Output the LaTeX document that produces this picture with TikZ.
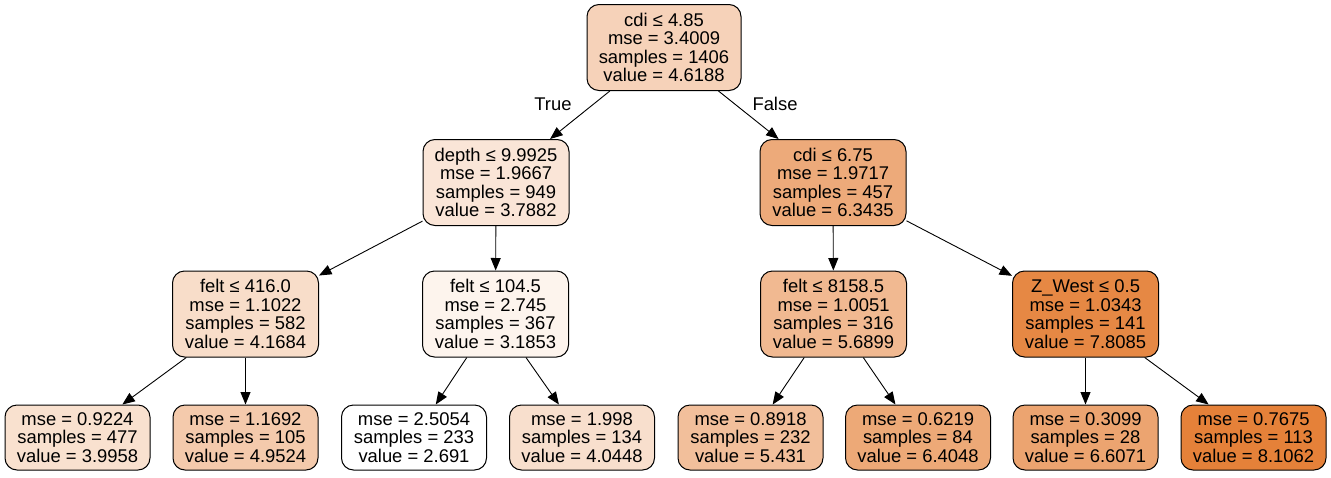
\documentclass[tikz,border=0pt]{standalone}
\usepackage{fontspec}
\setmainfont{Liberation Sans}
\usetikzlibrary{arrows.meta}
\definecolor{org}{HTML}{E58139}
\begin{document}
\begin{tikzpicture}[x=1pt,y=-1pt,
  tn/.style={draw=black, line width=1pt, rounded corners=12pt, align=center, inner sep=0pt, font=\fontsize{18.4}{18.5}\selectfont},
  split/.style={tn, minimum width=146pt, minimum height=86pt},
  leaf/.style={tn, minimum width=145pt, minimum height=65pt},
  edge/.style={-{Triangle[length=12.5pt,width=10pt]}, line width=0.9pt},
  lbl/.style={font=\fontsize{18.4}{18.4}\selectfont}]
\useasboundingbox (0,0) rectangle (1331,477);
\node[split, minimum width=154pt, fill=org!35.6!white] (n0) at (664,47.5) {cdi ≤ 4.85\\mse = 3.4009\\samples = 1406\\value = 4.6188};
\node[split, fill=org!20.3!white] (n1) at (496,182.5) {depth ≤ 9.9925\\mse = 1.9667\\samples = 949\\value = 3.7882};
\node[split, fill=org!67.4!white] (n2) at (833,182.5) {cdi ≤ 6.75\\mse = 1.9717\\samples = 457\\value = 6.3435};
\node[split, fill=org!27.3!white] (n3) at (245.5,314) {felt ≤ 416.0\\mse = 1.1022\\samples = 582\\value = 4.1684};
\node[split, fill=org!9.1!white] (n4) at (495.5,314) {felt ≤ 104.5\\mse = 2.745\\samples = 367\\value = 3.1853};
\node[split, fill=org!55.4!white] (n5) at (833.5,314) {felt ≤ 8158.5\\mse = 1.0051\\samples = 316\\value = 5.6899};
\node[split, fill=org!94.5!white] (n6) at (1085.5,314) {Z\_West ≤ 0.5\\mse = 1.0343\\samples = 141\\value = 7.8085};
\node[leaf, fill=org!24.1!white] (l1) at (77.5,437.5) {mse = 0.9224\\samples = 477\\value = 3.9958};
\node[leaf, fill=org!41.8!white] (l2) at (245.5,437.5) {mse = 1.1692\\samples = 105\\value = 4.9524};
\node[leaf, fill=white] (l3) at (414,437.5) {mse = 2.5054\\samples = 233\\value = 2.691};
\node[leaf, fill=org!25.0!white] (l4) at (582,437.5) {mse = 1.998\\samples = 134\\value = 4.0448};
\node[leaf, fill=org!50.6!white] (l5) at (750.5,437.5) {mse = 0.8918\\samples = 232\\value = 5.431};
\node[leaf, fill=org!68.6!white] (l6) at (918,437.5) {mse = 0.6219\\samples = 84\\value = 6.4048};
\node[leaf, fill=org!72.3!white] (l7) at (1085.5,437.5) {mse = 0.3099\\samples = 28\\value = 6.6071};
\node[leaf, fill=org!100!white] (l8) at (1253.5,437.5) {mse = 0.7675\\samples = 113\\value = 8.1062};
\draw[edge] (n0) -- (n1);
\draw[edge] (n0) -- (n2);
\draw[edge] (n1) -- (n3);
\draw[edge] (n1) -- (n4);
\draw[edge] (n2) -- (n5);
\draw[edge] (n2) -- (n6);
\draw[edge] (n3) -- (l1);
\draw[edge] (n3) -- (l2);
\draw[edge] (n4) -- (l3);
\draw[edge] (n4) -- (l4);
\draw[edge] (n5) -- (l5);
\draw[edge] (n5) -- (l6);
\draw[edge] (n6) -- (l7);
\draw[edge] (n6) -- (l8);
\node[lbl] (tl) at (553,104) {True};
\node[lbl] (fl) at (775,104) {False};
\end{tikzpicture}
\end{document}
